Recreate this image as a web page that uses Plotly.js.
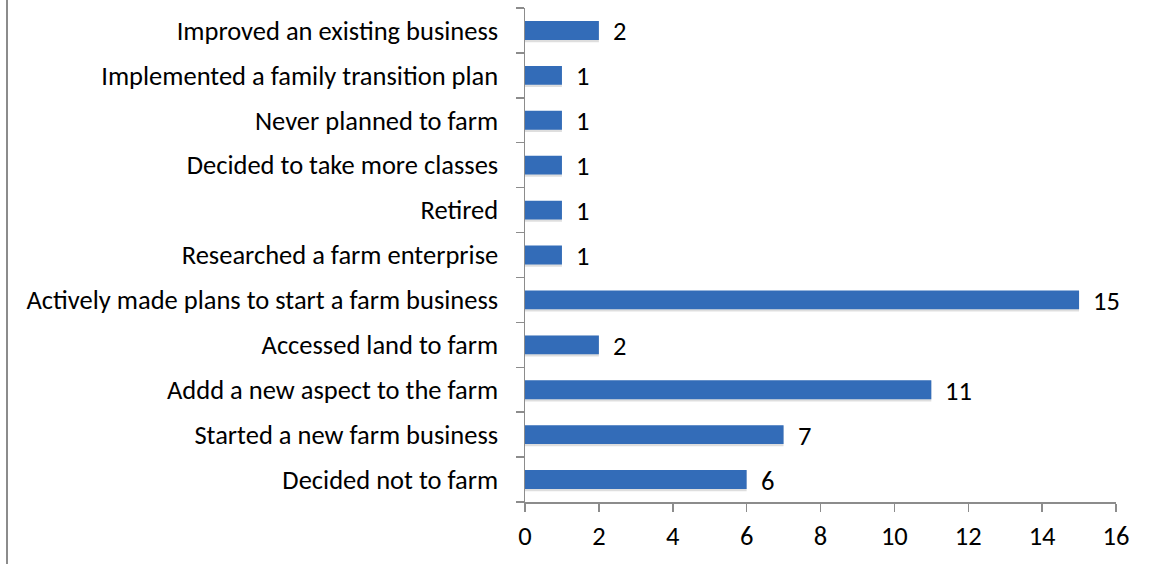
<!DOCTYPE html>
<html>
<head>
<meta charset="utf-8">
<script src="https://cdn.plot.ly/plotly-3.0.1.min.js"></script>
<style>html,body{margin:0;padding:0;background:#fff;}#chart{width:1154px;height:564px;}</style>
</head>
<body>
<div id="chart"></div>
<script>
// Categories listed bottom to top
const categories = [
  "Decided not to farm",
  "Started a new farm business",
  "Addd a new aspect to the farm",
  "Accessed land to farm",
  "Actively made plans to start a farm business",
  "Researched a farm enterprise",
  "Retired",
  "Decided to take more classes",
  "Never planned to farm",
  "Implemented a family transition plan",
  "Improved an existing business"
];
const counts = [6, 7, 11, 2, 15, 1, 1, 1, 1, 1, 2];
const xTicks = [0, 2, 4, 6, 8, 10, 12, 14, 16];

const FONT = "Carlito, Calibri, 'Liberation Sans', Arial, sans-serif";
const FS = 26.5;

const shadow = {
  type: 'bar', orientation: 'h',
  x: counts, y: categories,
  marker: {color: 'rgba(0,0,0,0.13)'},
  width: 0.46, offset: -0.26,
  hoverinfo: 'skip', showlegend: false
};
const bars = {
  type: 'bar', orientation: 'h',
  x: counts, y: categories,
  marker: {color: '#336cb8', line: {width: 0}},
  width: 0.42, offset: -0.21,
  showlegend: false
};

const annotations = categories.map((c, i) => ({
  x: counts[i], y: c, xref: 'x', yref: 'y',
  text: String(counts[i]), showarrow: false,
  xanchor: 'left', yanchor: 'middle', xshift: 12, yshift: -1,
  font: {family: FONT, size: FS, color: '#000'}
}));

const layout = {
  width: 1154, height: 564,
  margin: {l: 525, r: 38, t: 8, b: 62},
  paper_bgcolor: '#fff', plot_bgcolor: '#fff',
  showlegend: false,
  xaxis: {
    range: [0, 16], tickvals: xTicks, ticktext: xTicks.map(String),
    showgrid: false, zeroline: false,
    showline: true, linecolor: '#8c8c8c', linewidth: 1.5,
    ticks: 'outside', ticklen: 8, tickcolor: '#8c8c8c', tickwidth: 1.5,
    tickfont: {family: FONT, size: FS, color: '#000'},
    ticklabelstandoff: 2,
    fixedrange: true
  },
  yaxis: {
    type: 'category', categoryorder: 'array', categoryarray: categories,
    range: [-0.5, categories.length - 0.5],
    showgrid: false, zeroline: false,
    showline: true, linecolor: '#8c8c8c', linewidth: 1.5,
    ticks: 'outside', tickson: 'boundaries', ticklen: 8, tickcolor: '#8c8c8c', tickwidth: 1.5,
    tickfont: {family: FONT, size: FS, color: '#000'},
    ticklabelstandoff: 20,
    fixedrange: true
  },
  annotations: annotations,
  shapes: [{
    type: 'line', xref: 'paper', yref: 'paper',
    x0: -518/591, x1: -518/591, y0: -62/494, y1: 1 + 8/494,
    line: {color: '#8c8c8c', width: 2}
  }]
};

Plotly.newPlot('chart', [shadow, bars], layout, {displayModeBar: false, staticPlot: true});
</script>
</body>
</html>
